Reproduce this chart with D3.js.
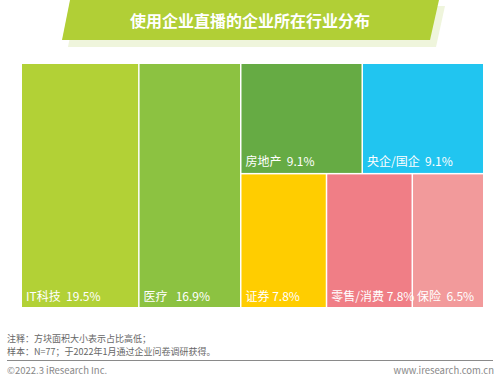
<!DOCTYPE html>
<html><head><meta charset="utf-8">
<script src="https://cdn.jsdelivr.net/npm/d3@7/dist/d3.min.js"></script>
<style>
html,body{margin:0;padding:0;background:#fff;}
svg{display:block;font-family:"Noto Sans CJK SC","Noto Sans",sans-serif;}
</style></head>
<body>
<script>
const title = "使用企业直播的企业所在行业分布";
const industries = ["IT科技","医疗","房地产","央企/国企","证券","零售/消费","保险"];
const counts = [15,13,7,7,6,6,5];
const percentLabels = ["19.5%","16.9%","9.1%","9.1%","7.8%","7.8%","6.5%"];
const gaps = ["  ","   ","  ","  "," "," ","  "];
const colors = ["#b2d136","#8cc241","#66ab44","#21c5f0","#ffcd00","#f07e86","#f29a9b"];
// layout groups: 0,1 full columns; right block: top row [2,3], bottom row [4,5,6]
const groups = [[0],[1],[[2,3],[4,5,6]]];
const notes = ["注释：方块面积大小表示占比高低；","样本：N=77；于2022年1月通过企业问卷调研获得。"];
const copyright = "©2022.3 iResearch Inc.";
const website = "www.iresearch.com.cn";

const W=500,H=382;
const svg=d3.select("body").append("svg").attr("width",W).attr("height",H);

// title banner
svg.append("polygon").attr("points",[[76,6],[445,6],[436,47],[68,47]].join(" ")).attr("fill","#eff5dc");
svg.append("polygon").attr("points",[[70,0],[439,0],[430,40],[62,40]].join(" ")).attr("fill","#b1cf36");
svg.append("text").attr("x",250).attr("y",26.5).attr("text-anchor","middle")
  .attr("fill","#fff").attr("font-size",16).attr("font-weight","bold").text(title);

// hierarchy
function leaf(i){return {name:industries[i],value:counts[i],idx:i};}
const data={children:[
  leaf(0), leaf(1),
  {children:[{children:groups[2][0].map(leaf)},{children:groups[2][1].map(leaf)}]}
]};
const root=d3.hierarchy(data).sum(d=>d.value||0);
d3.treemap().tile(d3.treemapSliceDice).size([461,243]).paddingInner(1.5)(root);

const g=svg.append("g").attr("transform","translate(22,64)");
const leaves=root.leaves();
g.selectAll("rect").data(leaves).join("rect")
  .attr("x",d=>d.x0).attr("y",d=>d.y0)
  .attr("width",d=>d.x1-d.x0).attr("height",d=>d.y1-d.y0)
  .attr("fill",d=>colors[d.data.idx]);
g.selectAll("text.lbl").data(leaves).join("text").attr("class","lbl")
  .attr("x",d=>d.x0+4).attr("y",d=>d.y1-6.5)
  .attr("fill","#fff").attr("font-size",12).attr("xml:space","preserve")
  .style("white-space","pre")
  .text(d=>industries[d.data.idx]+gaps[d.data.idx]+percentLabels[d.data.idx]);

// notes
svg.selectAll("text.note").data(notes).join("text").attr("class","note")
  .attr("x",7).attr("y",(d,i)=>342+i*13).attr("font-size",9).attr("fill","#666").text(d=>d);
svg.append("line").attr("x1",7).attr("x2",493).attr("y1",360.5).attr("y2",360.5)
  .attr("stroke","#8a8a8a").attr("stroke-width",1);
svg.append("text").attr("x",7).attr("y",374).attr("font-size",9.5).attr("fill","#888").text(copyright);
svg.append("text").attr("x",494).attr("y",374).attr("text-anchor","end").attr("font-size",9.5).attr("fill","#888").text(website);
</script>
</body></html>
